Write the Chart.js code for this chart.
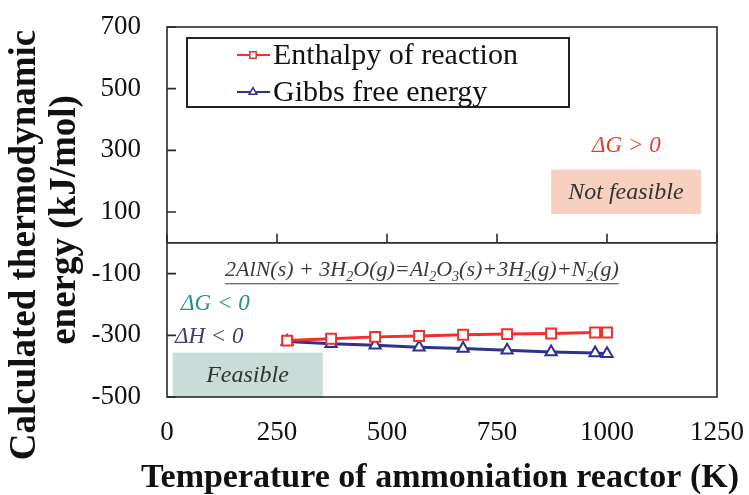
<!DOCTYPE html>
<html>
<head>
<meta charset="utf-8">
<script src="https://cdn.jsdelivr.net/npm/chart.js@4.4.1/dist/chart.umd.min.js"></script>
<style>
  html, body { margin: 0; padding: 0; background: #fff; }
  #chart { display: block; }
</style>
</head>
<body>
<canvas id="chart" width="749" height="495"></canvas>
<script>
// values
const temperatures = [273, 373, 473, 573, 673, 773, 873, 973, 1000];
const enthalpy = [-317, -311, -305, -302, -298, -296, -294, -291, -291];
const gibbs = [-320, -327, -332, -339, -343, -348, -354, -357, -360];
const xTicks = [0, 250, 500, 750, 1000, 1250];
const yTicks = [-500, -300, -100, 100, 300, 500, 700];
const seriesLabels = ['Enthalpy of reaction', 'Gibbs free energy'];
const yTitle = ['Calculated thermodynamic', 'energy (kJ/mol)'];
const xTitle = 'Temperature of ammoniation reactor (K)';

const SERIF = "'Liberation Serif', 'Times New Roman', serif";

function region(chart, x0, x1, y0, y1, color) {
    const {ctx, scales: {x, y}} = chart;
    const px0 = x.getPixelForValue(x0), px1 = x.getPixelForValue(x1);
    const py0 = y.getPixelForValue(y1), py1 = y.getPixelForValue(y0);
    ctx.fillStyle = color;
    ctx.fillRect(px0, py0, px1 - px0, py1 - py0);
}

function label(chart, str, xv, yv, align, color, font) {
    const {ctx, scales: {x, y}} = chart;
    ctx.font = font;
    ctx.fillStyle = color;
    ctx.textAlign = align;
    ctx.textBaseline = 'middle';
    ctx.fillText(str, x.getPixelForValue(xv), y.getPixelForValue(yv));
}

// reaction equation with subscripts, underlined
function equation(chart, xv, yv) {
    const {ctx, scales: {x, y}} = chart;
    const parts = [['2AlN(s) + 3H', 0], ['2', 1], ['O(g)=Al', 0], ['2', 1], ['O', 0], ['3', 1],
        ['(s)+3H', 0], ['2', 1], ['(g)+N', 0], ['2', 1], ['(g)', 0]];
    let px = x.getPixelForValue(xv);
    const py = y.getPixelForValue(yv) + 7;
    const start = px;
    ctx.fillStyle = '#3a3a3a';
    ctx.textAlign = 'left';
    ctx.textBaseline = 'alphabetic';
    parts.forEach(([t, sub]) => {
        ctx.font = sub ? 'italic 14px ' + SERIF : 'italic 22px ' + SERIF;
        ctx.fillText(t, px, sub ? py + 5 : py);
        px += ctx.measureText(t).width;
    });
    ctx.strokeStyle = '#3a3a3a';
    ctx.lineWidth = 1.2;
    ctx.beginPath();
    ctx.moveTo(start, py + 8);
    ctx.lineTo(px, py + 8);
    ctx.stroke();
}

const decorPlugin = {
    id: 'decor',
    beforeDatasetsDraw(chart) {
        const {ctx, chartArea: a, scales: {x, y}} = chart;
        ctx.save();
        region(chart, 13, 354, -500, -356, '#c9dcd8');
        region(chart, 873, 1214, 93, 237, '#f7d0c0');

        label(chart, 'Feasible', 183, -430, 'center', '#333', 'italic 24px ' + SERIF);
        label(chart, 'Not feasible', 1043, 164, 'center', '#333', 'italic 24px ' + SERIF);
        label(chart, '\u0394G > 0', 1044, 314, 'center', '#f03a2e', 'italic 23px ' + SERIF);
        label(chart, '\u0394G < 0', 32, -198, 'left', '#1f9482', 'italic 23px ' + SERIF);
        label(chart, '\u0394H < 0', 18, -304, 'left', '#40406e', 'italic 23px ' + SERIF);
        equation(chart, 132, -84);

        // frame, zero line and inward ticks
        ctx.strokeStyle = '#2a2a2a';
        ctx.lineWidth = 1.6;
        ctx.strokeRect(a.left, a.top, a.right - a.left, a.bottom - a.top);
        const y0 = y.getPixelForValue(0);
        ctx.beginPath();
        ctx.moveTo(a.left, y0);
        ctx.lineTo(a.right, y0);
        yTicks.forEach(v => {
            const py = y.getPixelForValue(v);
            ctx.moveTo(a.left, py);
            ctx.lineTo(a.left + 9, py);
        });
        xTicks.forEach(v => {
            const px = x.getPixelForValue(v);
            ctx.moveTo(px, y0);
            ctx.lineTo(px, y0 - 9);
        });
        ctx.stroke();
        ctx.restore();
    },
    afterDatasetsDraw(chart) {
        const {ctx} = chart;
        ctx.save();
        // boxed legend
        ctx.strokeStyle = '#222';
        ctx.lineWidth = 2;
        ctx.strokeRect(187, 38, 382, 69);
        chart.data.datasets.forEach((ds, i) => {
            const yc = 55 + i * 37;
            ctx.strokeStyle = ds.borderColor;
            ctx.lineWidth = 2;
            ctx.beginPath();
            ctx.moveTo(237, yc);
            ctx.lineTo(270, yc);
            ctx.stroke();
            ctx.fillStyle = '#fff';
            ctx.lineWidth = 1.5;
            Chart.helpers.drawPoint(ctx, {pointStyle: ds.pointStyle, radius: 4.5, rotation: 0, borderWidth: 1.5}, 253, yc);
            ctx.fillStyle = '#111';
            ctx.font = '30px ' + SERIF;
            ctx.textAlign = 'left';
            ctx.textBaseline = 'middle';
            ctx.fillText(ds.label, 273, yc + 1);
        });
        ctx.restore();
    },
    afterDraw(chart) {
        const {ctx} = chart;
        ctx.save();
        ctx.fillStyle = '#111';
        ctx.textAlign = 'center';
        ctx.textBaseline = 'middle';
        // axis titles
        ctx.font = 'bold 34px ' + SERIF;
        ctx.fillText(xTitle, 440, 478);
        ctx.font = 'bold 37px ' + SERIF;
        [[25, 245], [65, 220]].forEach(([px, py], i) => {
            ctx.save();
            ctx.translate(px, py);
            ctx.rotate(-Math.PI / 2);
            ctx.fillText(yTitle[i], 0, 0);
            ctx.restore();
        });
        ctx.restore();
    }
};

new Chart(document.getElementById('chart'), {
    type: 'line',
    data: {
        datasets: [{
            label: seriesLabels[0],
            data: temperatures.map((t, i) => ({x: t, y: enthalpy[i]})),
            borderColor: '#f32e2b',
            borderWidth: 3,
            pointStyle: 'rect',
            pointRadius: 7,
            pointBorderWidth: 2,
            pointBackgroundColor: '#fff',
            pointBorderColor: '#f32e2b'
        }, {
            label: seriesLabels[1],
            data: temperatures.map((t, i) => ({x: t, y: gibbs[i]})),
            borderColor: '#2f3192',
            borderWidth: 3,
            pointStyle: 'triangle',
            pointRadius: 6.5,
            pointBorderWidth: 2,
            pointBackgroundColor: '#fff',
            pointBorderColor: '#2f3192'
        }]
    },
    options: {
        responsive: false,
        animation: false,
        layout: { padding: { top: 27, right: 32, left: 0, bottom: 0 } },
        plugins: { legend: { display: false }, tooltip: { enabled: false } },
        scales: {
            x: {
                type: 'linear',
                min: 0,
                max: 1250,
                afterBuildTicks: s => { s.ticks = xTicks.map(v => ({value: v})); },
                afterFit: s => { s.height = 98; s.paddingLeft = 0; s.paddingRight = 0; },
                grid: { display: false, drawTicks: false },
                border: { display: false },
                ticks: { padding: 20, color: '#111', font: { family: SERIF, size: 27 }, callback: v => String(v) }
            },
            y: {
                min: -500,
                max: 700,
                afterBuildTicks: s => { s.ticks = yTicks.map(v => ({value: v})); },
                afterFit: s => { s.width = 167; s.paddingTop = 0; s.paddingBottom = 0; },
                grid: { display: false, drawTicks: false },
                border: { display: false },
                ticks: { padding: 26, color: '#111', font: { family: SERIF, size: 27 }, callback: v => String(v) }
            }
        }
    },
    plugins: [decorPlugin]
});
</script>
</body>
</html>
